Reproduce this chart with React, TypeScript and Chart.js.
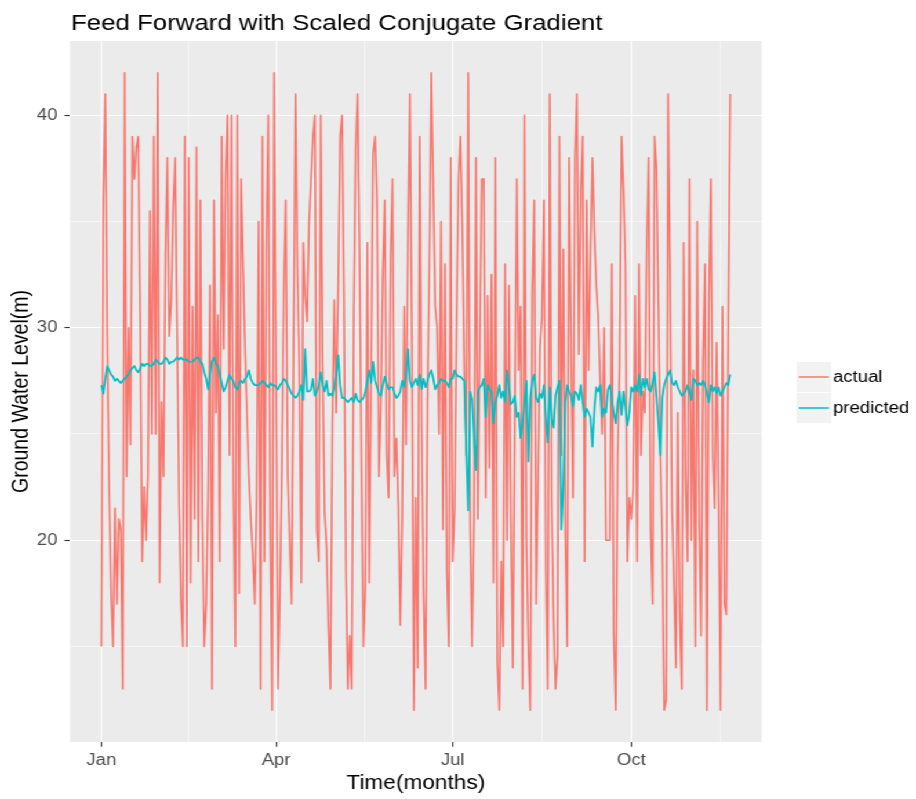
import React, { useEffect, useRef } from "react";
import { Chart, registerables } from "chart.js";

Chart.register(...registerables);

// Daily values, day 0 = 1 January
const ACTUAL = [
  15, 36, 41, 29.5, 22.5, 17.5, 15, 21.5, 17, 21, 20.5, 13, 42, 23, 30, 24.5, 39, 37, 38.5, 39,
  30.6, 19, 22.5, 20, 23, 35.5, 25, 39, 25, 42, 18, 26.5, 23, 33.5, 38, 29.6, 31.3, 35.7, 38, 30, 21.7,
  17.2, 15, 39, 15, 38, 18, 31, 21, 38.5, 19, 36, 21, 15, 17, 22.5, 32, 13, 36, 26, 30.6,
  19, 39, 29, 37.2, 40, 24, 40, 22.5, 15, 40, 17.5, 37, 33, 29, 26, 23, 21, 19.3, 17, 22, 35,
  13, 39, 19, 34, 40, 21, 12, 42, 28, 13, 17.7, 23.4, 32, 36, 23, 20, 17, 29, 41, 32.8,
  28.2, 18, 34, 31.5, 30.3, 35, 37, 39, 40, 20.5, 19, 40, 28.5, 21.3, 19.7, 16, 13, 25.5, 31.3,
  26, 32, 39, 40, 31.5, 18.5, 13, 15.5, 13, 30.3, 38.5, 41, 33.5, 23.2, 15, 17.8, 34, 18, 28, 38.2,
  39, 36, 23, 26.3, 32.5, 36, 24, 22, 33.3, 37, 23, 24.8, 21.5, 16, 21, 31, 24.5, 34.5, 41, 29, 12, 22, 14,
  39, 25.5, 17.5, 13, 26.5, 33, 42, 36.6, 31, 30, 25, 35, 20.5, 33, 18.5, 15, 38, 19, 21.5, 30.5,
  37, 39, 34.5, 28, 24, 42, 20.5, 15, 21, 38, 21, 29.5, 37, 37, 22, 31.5, 23.4, 32.5, 18, 38, 14.3, 12,
  19, 15, 33, 20, 32, 21, 14, 26, 37, 28, 31, 13, 40, 20, 15, 12, 31.5, 36, 17, 23,
  29, 30.5, 36, 18.7, 13, 41, 22, 16.3, 13, 14.5, 39, 24, 33.7, 20.5, 15, 38, 29, 22, 38, 41, 28.75,
  36.5, 39, 19, 36, 28, 33.5, 38, 34.5, 32, 30.5, 27.5, 25, 30, 20, 20, 20, 33, 15.5, 12, 24,
  28, 39, 36.5, 33, 19, 22, 21, 22.5, 31.5, 19, 33, 24, 27, 26, 34, 38, 20.5, 17, 39, 37.5,
  31, 24, 20, 12, 12.5, 41, 32.5, 21.5, 18, 14, 26, 16.5, 13, 34, 23, 19, 37, 20, 28, 15,
  35, 21, 15.5, 28.5, 33, 12, 31, 37, 24, 21.5, 29.3, 21.5, 12, 31, 17, 16.5, 29.6, 41,
];

const PREDICTED = [
  27.3, 26.9, 27.6, 28.2, 28.0, 27.8, 27.7, 27.5, 27.6, 27.5,
  27.4, 27.5, 27.6, 27.7, 27.8, 28.0, 28.1, 28.2, 28.0, 27.9,
  28.1, 28.3, 28.2, 28.3, 28.3, 28.2, 28.2, 28.3, 28.5, 28.4,
  28.3, 28.3, 28.4, 28.6, 28.5, 28.3, 28.4, 28.4, 28.5, 28.6,
  28.5, 28.6, 28.5, 28.5, 28.5, 28.4, 28.4, 28.4, 28.5, 28.6,
  28.6, 28.4, 28.3, 27.9, 27.6, 27.1, 27.8, 28.4, 28.6, 28.3,
  28.2, 27.8, 27.4, 27.0, 27.2, 27.5, 27.8, 27.6, 27.5, 27.2,
  27.1, 27.4, 27.5, 27.4, 27.6, 27.7, 28.0, 27.6, 27.4, 27.3,
  27.3, 27.3, 27.4, 27.5, 27.4, 27.3, 27.2, 27.4, 27.3, 27.3,
  27.2, 27.1, 27.3, 27.4, 27.6, 27.5, 27.3, 27.1, 26.9, 26.8,
  26.7, 26.8, 27.0, 27.3, 26.6, 29.0, 27.0, 27.0, 27.1, 27.6,
  26.8, 27.0, 27.3, 27.9, 27.3, 27.0, 27.5, 26.8, 26.9, 26.8,
  27.2, 27.8, 28.7, 27.3, 26.7, 26.7, 26.6, 26.5, 26.6, 26.7,
  26.5, 26.9, 26.6, 26.5, 26.6, 26.7, 27.0, 27.5, 28.0, 27.4,
  28.4, 27.5, 27.2, 26.9, 26.8, 27.3, 27.7, 27.4, 27.1, 27.2,
  27.2, 26.9, 26.7, 26.8, 27.0, 27.5, 27.2, 27.8, 29.0, 27.5,
  27.2, 27.4, 27.6, 27.3, 27.8, 27.1, 27.6, 27.2, 27.5, 27.8,
  28.0, 27.6, 27.1, 27.3, 27.4, 27.6, 27.5, 27.5, 27.4, 27.2,
  27.6, 27.6, 28.0, 27.8, 27.7, 27.7, 27.6, 27.5, 24.3, 21.4,
  27.0, 26.6, 24.8, 23.3, 27.0, 27.2, 27.3, 27.6, 25.8, 27.3,
  27.1, 27.0, 25.5, 26.5, 26.8, 27.3, 26.7, 27.0, 26.5, 28.0,
  27.2, 26.4, 26.5, 26.8, 25.8, 26.0, 24.8, 25.5, 26.5, 27.5,
  23.7, 26.7, 27.5, 27.8, 26.7, 26.5, 26.9, 26.7, 27.3, 25.8,
  24.6, 27.2, 25.7, 25.3, 26.8, 27.2, 27.5, 20.5, 22.6, 26.5,
  27.3, 27.0, 26.8, 26.3, 27.0, 26.9, 26.6, 27.3, 26.5, 25.8,
  26.2, 26.0, 25.8, 24.4, 26.2, 27.2, 27.0, 27.3, 25.8, 26.2,
  26.0, 27.1, 27.3, 26.6, 26.0, 25.5, 26.5, 27.0, 25.9, 27.0,
  26.2, 25.4, 26.0, 27.2, 27.0, 27.3, 27.0, 27.8, 26.8, 27.6,
  27.2, 27.6, 27.1, 27.0, 27.4, 27.9, 26.8, 25.5, 24.0, 26.7,
  27.3, 27.6, 27.8, 28.0, 27.4, 27.3, 27.5, 27.2, 27.0, 26.8,
  26.9, 27.0, 27.3, 27.0, 26.6, 27.6, 27.5, 27.3, 27.4, 27.3,
  27.5, 27.3, 26.9, 26.5, 27.3, 27.0, 27.2, 26.9, 27.2, 26.8,
  27.0, 27.2, 27.4, 27.3, 27.8,
];

const X_TICK_DAYS = [0, 90, 181, 273];
const X_TICK_LABELS = ["Jan", "Apr", "Jul", "Oct"];
const X_MINOR_DAYS = [45, 135.5, 227, 319];
const Y_MAJOR = [20, 30, 40];
const Y_MINOR = [15, 25, 35];
const SERIES_NAMES = ["actual", "predicted"];
const TITLE = "Feed Forward with Scaled Conjugate Gradient";
const X_TITLE = "Time(months)";
const Y_TITLE = "Ground Water Level(m)";

const W = 790;
const H = 799;
const STRETCH = 916 / W;
const FONT = '"Liberation Sans", Arial, Helvetica, sans-serif';
const RED = "#F8766D";
const CYAN = "#00BFC4";
const PANEL = { left: 60.34, right: 656.9, top: 41, bottom: 742 };

export default function App() {
  const ref = useRef<HTMLCanvasElement | null>(null);

  useEffect(() => {
    if (!ref.current) return;
    const days = ACTUAL.map((_, i) => i);
    const n = days.length;
    const span = days[n - 1] - days[0];
    const xMin = days[0] - span * 0.05;
    const xMax = days[n - 1] + span * 0.05;
    const all = [...ACTUAL, ...PREDICTED];
    const lo = Math.min(...all);
    const hi = Math.max(...all);
    const yMin = lo - (hi - lo) * 0.05;
    const yMax = hi + (hi - lo) * 0.05;

    const isMajorX = (c: any) => c.tick && X_TICK_DAYS.indexOf(c.tick.value) >= 0;
    const isMajorY = (c: any) => c.tick && Y_MAJOR.indexOf(c.tick.value) >= 0;

    const decor = {
      id: "ggDecor",
      beforeDraw(chart: any) {
        const { ctx, chartArea: a } = chart;
        ctx.save();
        ctx.fillStyle = "#EBEBEB";
        ctx.fillRect(a.left, a.top, a.right - a.left, a.bottom - a.top);
        ctx.restore();
      },
      afterDraw(chart: any) {
        const { ctx, chartArea: a } = chart;
        ctx.save();
        ctx.fillStyle = "#000000";
        ctx.font = `22.3px ${FONT}`;
        ctx.textAlign = "left";
        ctx.textBaseline = "alphabetic";
        ctx.fillText(TITLE, a.left + 0.8, 29.5);
        ctx.font = `19.5px ${FONT}`;
        ctx.textAlign = "center";
        ctx.fillText(X_TITLE, (a.left + a.right) / 2, 789);
        ctx.save();
        ctx.translate(18.5, (a.top + a.bottom) / 2);
        ctx.rotate(-Math.PI / 2);
        ctx.textBaseline = "middle";
        ctx.fillText(Y_TITLE, 0, 0);
        ctx.restore();
        const colors = [RED, CYAN];
        const keyLeft = a.right + 30;
        const keyW = 30;
        const keyH = 30;
        const tops = [362, 393];
        ctx.font = `16px ${FONT}`;
        ctx.textAlign = "left";
        ctx.textBaseline = "middle";
        SERIES_NAMES.forEach((name, i) => {
          const t = tops[i];
          ctx.fillStyle = "#F2F2F2";
          ctx.fillRect(keyLeft, t, keyW, keyH);
          ctx.strokeStyle = colors[i];
          ctx.lineWidth = 1.5;
          ctx.beginPath();
          ctx.moveTo(keyLeft + 2, t + keyH / 2);
          ctx.lineTo(keyLeft + keyW - 2, t + keyH / 2);
          ctx.stroke();
          ctx.fillStyle = "#000000";
          ctx.fillText(name, keyLeft + keyW + 1.5, t + keyH / 2 + 1);
        });
        ctx.restore();
      },
    };

    const chart = new Chart(ref.current, {
      type: "line",
      data: {
        datasets: [
          {
            label: SERIES_NAMES[0],
            data: ACTUAL.map((v, i) => ({ x: days[i], y: v })),
            borderColor: RED,
            backgroundColor: RED,
            borderWidth: 1.6,
            pointRadius: 0,
            tension: 0,
            fill: false,
            borderJoinStyle: "round",
            order: 2,
          },
          {
            label: SERIES_NAMES[1],
            data: PREDICTED.map((v, i) => ({ x: days[i], y: v })),
            borderColor: CYAN,
            backgroundColor: CYAN,
            borderWidth: 1.7,
            pointRadius: 0,
            tension: 0,
            fill: false,
            borderJoinStyle: "round",
            order: 1,
          },
        ],
      },
      options: {
        animation: false,
        responsive: false,
        events: [],
        layout: { padding: { top: PANEL.top, left: 0, right: W - PANEL.right, bottom: 0 } },
        plugins: {
          legend: { display: false },
          title: { display: false },
          tooltip: { enabled: false },
        },
        scales: {
          x: {
            type: "linear",
            min: xMin,
            max: xMax,
            afterFit(s: any) {
              s.height = H - PANEL.bottom;
            },
            afterBuildTicks(s: any) {
              s.ticks = [...X_TICK_DAYS, ...X_MINOR_DAYS]
                .sort((p, q) => p - q)
                .map((v) => ({ value: v }));
            },
            ticks: {
              autoSkip: false,
              maxRotation: 0,
              minRotation: 0,
              padding: 4,
              color: "#4D4D4D",
              font: { family: FONT, size: 16 },
              callback: (v: any) => {
                const i = X_TICK_DAYS.indexOf(Number(v));
                return i >= 0 ? X_TICK_LABELS[i] : "";
              },
            },
            grid: {
              color: "#FFFFFF",
              lineWidth: (c: any) => (isMajorX(c) ? 1.05 : 0.55),
              tickColor: (c: any) => (isMajorX(c) ? "#333333" : "rgba(0,0,0,0)"),
              tickLength: 4.75,
              tickWidth: 1.05,
              drawTicks: true,
            },
            border: { display: false },
          },
          y: {
            type: "linear",
            min: yMin,
            max: yMax,
            afterFit(s: any) {
              s.width = PANEL.left;
            },
            afterBuildTicks(s: any) {
              s.ticks = [...Y_MINOR, ...Y_MAJOR]
                .sort((p, q) => p - q)
                .map((v) => ({ value: v }));
            },
            ticks: {
              autoSkip: false,
              padding: 6,
              color: "#4D4D4D",
              font: { family: FONT, size: 16 },
              callback: (v: any) => (Y_MAJOR.indexOf(Number(v)) >= 0 ? String(v) : ""),
            },
            grid: {
              color: "#FFFFFF",
              lineWidth: (c: any) => (isMajorY(c) ? 1.1 : 0.55),
              tickColor: (c: any) => (isMajorY(c) ? "#333333" : "rgba(0,0,0,0)"),
              tickLength: 4.75,
              tickWidth: 1.1,
              drawTicks: true,
            },
            border: { display: false },
          },
        },
      },
      plugins: [decor],
    } as any);

    return () => chart.destroy();
  }, []);

  return (
    <div
      style={{
        position: "fixed",
        left: 0,
        top: 0,
        width: W,
        height: H,
        transform: `scaleX(${STRETCH})`,
        transformOrigin: "0 0",
        background: "#FFFFFF",
      }}
    >
      <canvas ref={ref} width={W} height={H} style={{ display: "block", width: W, height: H }} />
    </div>
  );
}
